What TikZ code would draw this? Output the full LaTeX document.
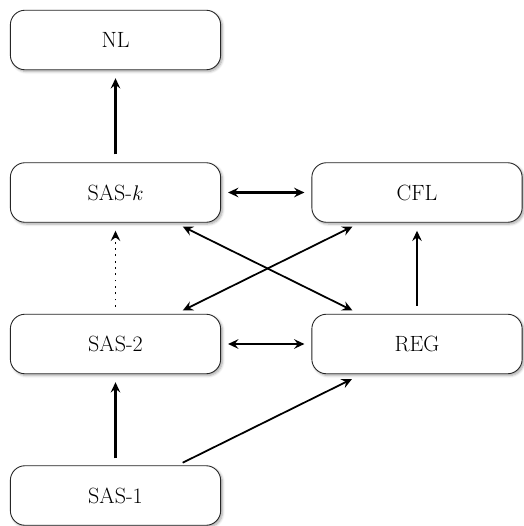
\documentclass[tikz,border=0pt]{standalone}
\usetikzlibrary{arrows.meta,shadows.blur}
\begin{document}
\begin{tikzpicture}[x=0.68pt,y=-0.68pt,
  box/.style={draw=black!85, line width=0.6pt, rounded corners=10pt, fill=white,
    minimum width=143pt, minimum height=40.5pt, inner sep=0pt,
    font=\fontsize{15}{18}\selectfont,
    blur shadow={shadow xshift=1.2pt, shadow yshift=-1.2pt, shadow blur steps=6, shadow opacity=35}},
  tip/.style={-{Stealth[length=7pt,width=6.5pt,inset=2.5pt]}},
  dtip/.style={{Stealth[length=7pt,width=6.5pt,inset=2.5pt]}-{Stealth[length=7pt,width=6.5pt,inset=2.5pt]}},
  vthick/.style={line width=2pt},
  hthick/.style={line width=1.6pt},
  dthick/.style={line width=1.2pt},
  dotline/.style={line width=1.3pt, dash pattern=on 1.3pt off 3pt}]
\useasboundingbox (0,0) rectangle (523,526);
\node[box] (nl)   at (115.5,40)  {NL};
\node[box] (sask) at (115.5,192.5) {SAS-$k$};
\node[box] (cfl)  at (417,192.5) {CFL};
\node[box] (sas2) at (115.5,344) {SAS-2};
\node[box] (reg)  at (417,344) {REG};
\node[box] (sas1) at (115.5,495.5) {SAS-1};
% connectors
\draw[tip,vthick] ([yshift=8*0.68pt]sask.north) -- ([yshift=-8*0.68pt]nl.south);
\draw[tip,vthick] ([yshift=7*0.68pt]sas1.north) -- ([yshift=-8*0.68pt]sas2.south);
\draw[tip,vthick] ([yshift=8*0.68pt]reg.north) -- ([yshift=-8*0.68pt]cfl.south);
\draw[tip,dotline] ([yshift=7*0.68pt]sas2.north) -- ([yshift=-8*0.68pt]sask.south);
\draw[dtip,hthick] ([xshift=7*0.68pt]sask.east) -- ([xshift=-7*0.68pt]cfl.west);
\draw[dtip,hthick] ([xshift=7*0.68pt]sas2.east) -- ([xshift=-7*0.68pt]reg.west);
\coordinate (a1) at (182.7,226.5);
\coordinate (a2) at (352.5,310.5);
\coordinate (b1) at (182.7,310.5);
\coordinate (b2) at (352.5,226.5);
\draw[dtip,dthick] (a1) -- (a2);
\draw[dtip,dthick] (b1) -- (b2);
\coordinate (c1) at (182.7,462.7);
\coordinate (c2) at (352,379);
\draw[tip,dthick] (c1) -- (c2);
\end{tikzpicture}
\end{document}
